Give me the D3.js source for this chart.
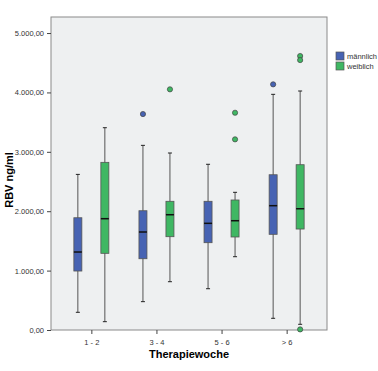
<!DOCTYPE html>
<html>
<head>
<meta charset="utf-8">
<script src="https://cdn.jsdelivr.net/npm/d3@7"></script>
<style>
body { margin: 0; background: #fff; }
text { font-family: "Liberation Sans", Arial, sans-serif; }
</style>
</head>
<body>
<div id="chart"></div>
<script>
let w = 378;
let h = 371;

let weeks = ["1 - 2", "3 - 4", "5 - 6", "> 6"];
let sexes = ["männlich", "weiblich"];
let colors = ["#4763b3", "#3fb763"];
let yTicks = [0, 1000, 2000, 3000, 4000, 5000];

// [whiskerLow, q1, median, q3, whiskerHigh]
let maleStats = [
    [298, 993, 1313, 1890, 2620],
    [477, 1200, 1650, 2008, 3109],
    [695, 1470, 1796, 2167, 2790],
    [197, 1611, 2093, 2614, 3968]
];
let femaleStats = [
    [140, 1291, 1874, 2823, 3406],
    [813, 1571, 1941, 2167, 2980],
    [1234, 1566, 1840, 2189, 2318],
    [96, 1700, 2042, 2783, 4024]
];
let maleOutliers = [[], [3636], [], [4136]];
let femaleOutliers = [[], [4052], [3658, 3210], [4613, 4545, 10]];

let plotLeft = 51, plotTop = 17, plotRight = 327, plotBottom = 330;

let svg = d3.select("#chart").append("svg")
    .attr("width", w)
    .attr("height", h);

let xScale = d3.scalePoint().domain(weeks).range([plotLeft, plotRight]).padding(0.62);
let yScale = d3.scaleLinear().domain([0, 5270]).range([plotBottom, plotTop]);

svg.append("rect")
    .attr("x", plotLeft).attr("y", plotTop)
    .attr("width", plotRight - plotLeft).attr("height", plotBottom - plotTop)
    .attr("fill", "#eef0f1")
    .attr("stroke", "#8a8a8a")
    .attr("stroke-width", 1);

// y axis
let fmt = d3.formatLocale({decimal: ",", thousands: ".", grouping: [3], currency: ["", ""]}).format(",.2f");
let yAxis = d3.axisLeft(yScale).tickValues(yTicks).tickSize(4).tickFormat(fmt);
let yG = svg.append("g").attr("transform", "translate(" + plotLeft + ",0)").call(yAxis);
yG.select(".domain").remove();
yG.selectAll("line").attr("stroke", "#444");
yG.selectAll("text").attr("font-size", 7.5).attr("fill", "#333");

// x axis
let xAxis = d3.axisBottom(xScale).tickSize(4).tickPadding(6);
let xG = svg.append("g").attr("transform", "translate(0," + plotBottom + ")").call(xAxis);
xG.select(".domain").remove();
xG.selectAll("line").attr("stroke", "#444");
xG.selectAll("text").attr("font-size", 7.5).attr("fill", "#333");

svg.append("text")
    .attr("x", 189).attr("y", 358)
    .attr("text-anchor", "middle")
    .attr("font-size", 11).attr("font-weight", "bold")
    .text("Therapiewoche");

svg.append("text")
    .attr("transform", "translate(13,180) rotate(-90)")
    .attr("text-anchor", "middle")
    .attr("font-size", 11).attr("font-weight", "bold")
    .text("RBV ng/ml");

let offsets = [-13.5, 13.5];
let boxW = 8;
let allStats = [maleStats, femaleStats];
let allOutliers = [maleOutliers, femaleOutliers];

allStats.forEach(function (stats, s) {
    stats.forEach(function (d, i) {
        let cx = xScale(weeks[i]) + offsets[s];
        let g = svg.append("g");
        // whiskers
        g.append("line")
            .attr("x1", cx).attr("x2", cx)
            .attr("y1", yScale(d[0])).attr("y2", yScale(d[4]))
            .attr("stroke", "#555").attr("stroke-width", 1);
        [d[0], d[4]].forEach(function (v) {
            g.append("line")
                .attr("x1", cx - 2).attr("x2", cx + 2)
                .attr("y1", yScale(v)).attr("y2", yScale(v))
                .attr("stroke", "#222").attr("stroke-width", 1);
        });
        g.append("rect")
            .attr("x", cx - boxW / 2).attr("width", boxW)
            .attr("y", yScale(d[3])).attr("height", yScale(d[1]) - yScale(d[3]))
            .attr("fill", colors[s])
            .attr("stroke", "#555").attr("stroke-width", 0.8);
        g.append("line")
            .attr("x1", cx - boxW / 2).attr("x2", cx + boxW / 2)
            .attr("y1", yScale(d[2])).attr("y2", yScale(d[2]))
            .attr("stroke", "#111").attr("stroke-width", 1.5);
        allOutliers[s][i].forEach(function (v) {
            g.append("circle")
                .attr("cx", cx).attr("cy", yScale(v))
                .attr("r", 2.6)
                .attr("fill", colors[s])
                .attr("stroke", "#444").attr("stroke-width", 0.7);
        });
    });
});

// legend
sexes.forEach(function (name, i) {
    svg.append("rect")
        .attr("x", 336).attr("y", 52 + i * 10)
        .attr("width", 8).attr("height", 8)
        .attr("fill", colors[i])
        .attr("stroke", "#555").attr("stroke-width", 0.7);
    svg.append("text")
        .attr("x", 347).attr("y", 59 + i * 10)
        .attr("font-size", 7.5).attr("fill", "#333")
        .text(name);
});
</script>
</body>
</html>
